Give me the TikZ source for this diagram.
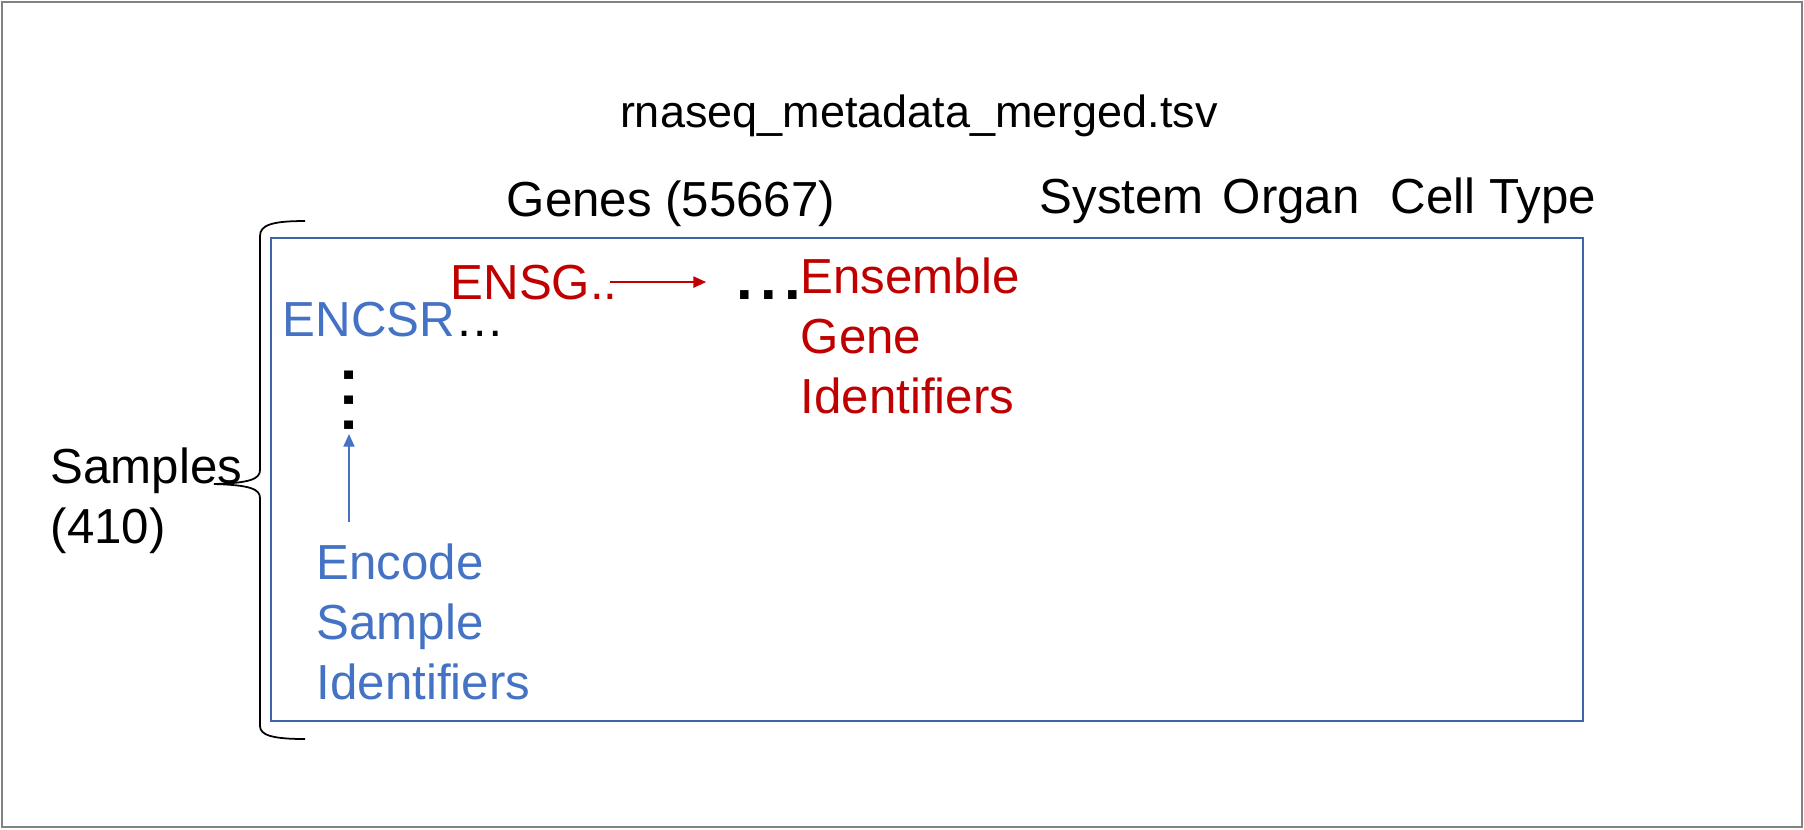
\documentclass[tikz,border=0pt]{standalone}
\usepackage{fontspec}
\setmainfont{Liberation Sans}
\usetikzlibrary{arrows.meta, positioning}
\definecolor{idblue}{RGB}{68,114,196}
\definecolor{idred}{RGB}{192,0,0}
\definecolor{sheetblue}{RGB}{64,100,170}
\definecolor{framegray}{RGB}{130,130,130}
\newcommand{\spreaddots}[1]{.\kern#1.\kern#1.}
\tikzset{
  lbl/.style={inner sep=0pt, anchor=base west, font=\fontsize{14}{17}\selectfont},
  multi/.style={lbl, align=left},
  bigdots/.style={inner sep=0pt, font=\fontsize{17}{20}\selectfont\bfseries},
  idarrow/.style={-{Triangle[length=3.6pt, width=3.2pt]}, line width=0.4pt}
}
\begin{document}
\begin{tikzpicture}[x=0.01cm, y=-0.01cm]
  \useasboundingbox (0,0) rectangle (1804,829);
  \draw[framegray, line width=0.6pt] (2,2) rectangle (1802,827);
  % the table
  \draw[sheetblue, line width=0.8pt] (271,238) rectangle (1583,721);
  \node[lbl, anchor=base, font=\fontsize{12.8}{16}\selectfont] (title) at (919,127) {rnaseq\_metadata\_merged.tsv};
  \node[lbl] (genes) at (506,216) {Genes (55667)};
  \node[lbl] (system) at (1039,213) {System};
  \node[lbl] (organ) at (1222,213) {Organ};
  \node[lbl] (celltype) at (1390,213) {Cell Type};
  % rows (multi-line nodes sit on their last baseline)
  \node[multi] (samples) at (50,543) {Samples\\(410)};
  \draw[line width=0.5pt] (305,221) .. controls (272,221) and (260,225) .. (260,236) -- (260,470)
    .. controls (260,479) and (250,483) .. (214,484) .. controls (250,485) and (260,489) .. (260,498)
    -- (260,726) .. controls (260,735) and (272,739) .. (305,739);
  \node[lbl] (encsr) at (282,336) {\textcolor{idblue}{ENCSR}\ldots};
  \node[lbl, idred] (ensg) at (450,299) {ENSG..};
  \node[bigdots, anchor=base west] (gdots) at (736,299) {\spreaddots{2pt}};
  \node[multi, idred] (ensembl) at (800,413) {Ensemble\\Gene\\Identifiers};
  \node[bigdots, rotate=90] (sdots) at (349,400) {\spreaddots{2.4pt}};
  \node[multi, idblue] (encode) at (316,699) {Encode\\Sample\\Identifiers};
  % identifier arrows
  \draw[idarrow, idred, shorten <=-2.5pt, shorten >=8.5pt] (ensg.east) -- (ensg.east -| gdots.west);
  \draw[idarrow, idblue] ([yshift=6pt]encode.north -| sdots.center) -- (sdots.west);
\end{tikzpicture}
\end{document}
